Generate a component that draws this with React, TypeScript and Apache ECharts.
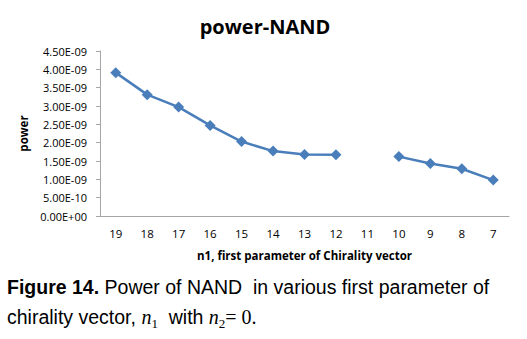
import React, { useEffect, useRef } from "react";
import * as echarts from "echarts";

const categories = ["19", "18", "17", "16", "15", "14", "13", "12", "11", "10", "9", "8", "7"];
const powerValues: (number | null)[] = [
  3.91e-9, 3.31e-9, 2.97e-9, 2.47e-9, 2.03e-9, 1.77e-9, 1.68e-9, 1.67e-9, null, 1.62e-9, 1.43e-9, 1.29e-9, 0.98e-9,
];
const yTicks = ["0.00E+00", "5.00E-10", "1.00E-09", "1.50E-09", "2.00E-09", "2.50E-09", "3.00E-09", "3.50E-09", "4.00E-09", "4.50E-09"];

export default function App() {
  const ref = useRef<HTMLDivElement>(null);
  useEffect(() => {
    if (!ref.current) return;
    const chart = echarts.init(ref.current, null, { renderer: "svg" });
    chart.setOption({
      animation: false,
      backgroundColor: "#ffffff",
      title: {
        text: "power-NAND",
        left: 260,
        textAlign: "center",
        top: 11,
        textStyle: { fontFamily: "Open Sans", fontWeight: "bold", fontSize: 20, color: "#000" },
      },
      grid: { left: 100, right: 18, top: 51, bottom: 123 },
      xAxis: {
        type: "category",
        data: categories,
        boundaryGap: true,
        name: "n1, first parameter of Chirality vector",
        nameLocation: "middle",
        nameGap: 33,
        nameTextStyle: { fontFamily: "Open Sans", fontWeight: "bold", fontSize: 11.5, color: "#000" },
        axisLine: { lineStyle: { color: "#a6a6a6", width: 1 } },
        axisTick: { show: false },
        axisLabel: { fontFamily: "Open Sans", fontSize: 11.5, color: "#000", margin: 11 },
      },
      yAxis: {
        type: "value",
        min: 0,
        max: 4.5e-9,
        interval: 0.5e-9,
        name: "power",
        nameLocation: "middle",
        nameGap: 67,
        nameRotate: 90,
        nameTextStyle: { fontFamily: "Open Sans", fontWeight: "bold", fontSize: 11.5, color: "#000" },
        splitLine: { show: false },
        axisLine: { show: true, lineStyle: { color: "#a6a6a6", width: 1 } },
        axisTick: { show: true, length: 4, inside: false, lineStyle: { color: "#a6a6a6" } },
        axisLabel: {
          fontFamily: "Open Sans",
          fontSize: 11,
          color: "#000",
          margin: 13,
          formatter: (v: number) => yTicks[Math.round(v / 0.5e-9)] ?? "",
        },
      },
      series: [
        {
          type: "line",
          data: powerValues,
          connectNulls: false,
          symbol: "diamond",
          symbolSize: 11,
          lineStyle: { color: "#4a7ebb", width: 2.5 },
          itemStyle: { color: "#4a7ebb" },
        },
      ],
      graphic: [
        {
          type: "text",
          left: 7,
          top: 277,
          style: {
            text:
              "{b|Figure 14.}{a| Power of NAND  in various first parameter of}\n{a|chirality vector, }{i|n}{sub|1}{a|  with }{i|n}{sub|2}{s|= 0.}",
            rich: {
              b: { fontFamily: "Liberation Sans", fontWeight: "bold", fontSize: 19.5, lineHeight: 30, fill: "#000" },
              a: { fontFamily: "Liberation Sans", fontSize: 19.5, lineHeight: 30, fill: "#000" },
              i: { fontFamily: "Liberation Serif", fontStyle: "italic", fontSize: 20, lineHeight: 30, fill: "#000" },
              sub: { fontFamily: "Liberation Serif", fontSize: 13, padding: [12, 0, 0, 0], lineHeight: 30, fill: "#000" },
              s: { fontFamily: "Liberation Serif", fontSize: 20, lineHeight: 30, fill: "#000" },
            },
          },
        },
      ],
    });
    return () => chart.dispose();
  }, []);
  return <div ref={ref} style={{ position: "fixed", left: 0, top: 0, width: 527, height: 339 }} />;
}
